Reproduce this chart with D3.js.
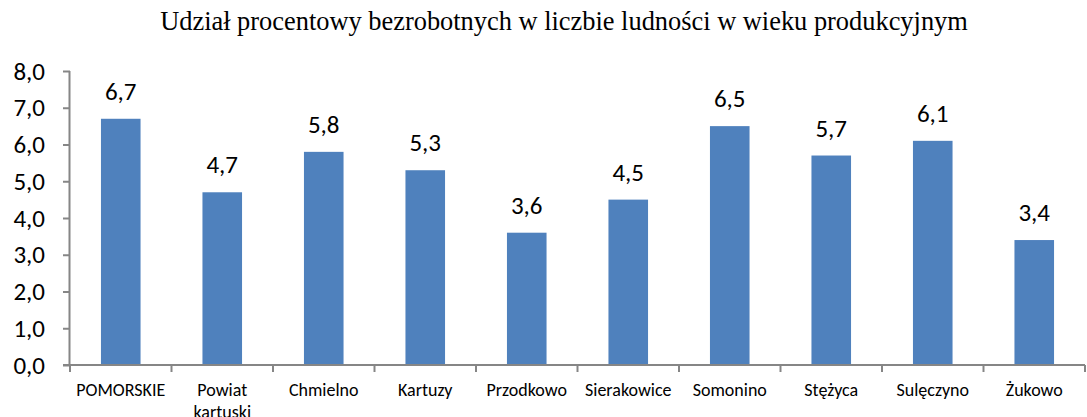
<!DOCTYPE html>
<html>
<head>
<meta charset="utf-8">
<script src="https://cdn.jsdelivr.net/npm/d3@7"></script>
<style>
  body { margin: 0; background: #fff; }
  svg { display: block; }
</style>
</head>
<body>
<figure id="chart" style="margin:0"></figure>
<script>
const categories = ["POMORSKIE", "Powiat kartuski", "Chmielno", "Kartuzy", "Przodkowo",
  "Sierakowice", "Somonino", "Stężyca", "Sulęczyno", "Żukowo"];
const values = [6.7, 4.7, 5.8, 5.3, 3.6, 4.5, 6.5, 5.7, 6.1, 3.4];
const yTicks = [0, 1, 2, 3, 4, 5, 6, 7, 8];
const chartTitle = "Udział procentowy bezrobotnych w liczbie ludności w wieku produkcyjnym";

const width = 1087, height = 417;
const margin = { top: 71, right: 2, bottom: 52, left: 70 };
const fmt = v => v.toFixed(1).replace(".", ",");
const sans = "Carlito, 'Liberation Sans', Arial, sans-serif";

const svg = d3.select("figure#chart")
  .append("svg")
  .attr("width", width)
  .attr("height", height);

const x = d3.scaleBand()
  .domain(categories)
  .range([margin.left, width - margin.right])
  .paddingInner(0.61)
  .paddingOuter(0.305);

const y = d3.scaleLinear()
  .domain([0, 8])
  .range([height - margin.bottom, margin.top]);

// title
svg.append("text")
  .attr("x", 564)
  .attr("y", 30)
  .attr("text-anchor", "middle")
  .attr("font-family", "'Liberation Serif', 'Times New Roman', serif")
  .attr("font-size", 26.4)
  .attr("fill", "#000")
  .text(chartTitle);

// bars
svg.append("g")
  .selectAll("rect")
  .data(values)
  .join("rect")
  .attr("x", (d, i) => x(categories[i]))
  .attr("y", d => y(d))
  .attr("width", x.bandwidth())
  .attr("height", d => y(0) - y(d))
  .attr("fill", "#4f81bd");

// data labels
svg.append("g")
  .selectAll("text")
  .data(values)
  .join("text")
  .attr("x", (d, i) => x(categories[i]) + x.bandwidth() / 2)
  .attr("y", d => y(d) - 19)
  .attr("text-anchor", "middle")
  .attr("font-family", sans)
  .attr("font-size", 25)
  .attr("fill", "#000")
  .text(fmt);

// y axis
const gy = svg.append("g")
  .attr("transform", `translate(${margin.left},0)`)
  .call(d3.axisLeft(y).tickValues(yTicks).tickFormat(fmt).tickSize(7).tickPadding(18));
gy.select(".domain").attr("stroke", "#868686").attr("stroke-width", 2).attr("d", `M-0.5,${y(8)}V${y(0)}`);
gy.selectAll(".tick line").attr("stroke", "#868686").attr("stroke-width", 2);
gy.selectAll(".tick text")
  .attr("font-family", sans)
  .attr("font-size", 25)
  .attr("fill", "#000");

// x axis
const gx = svg.append("g")
  .attr("transform", `translate(0,${y(0)})`);
gx.append("line")
  .attr("x1", margin.left - 7)
  .attr("x2", width - margin.right)
  .attr("stroke", "#868686")
  .attr("stroke-width", 2);
const bounds = d3.range(categories.length + 1).map(i => margin.left + i * (width - margin.right - margin.left) / categories.length);
gx.selectAll(".xt")
  .data(bounds)
  .join("line")
  .attr("class", "xt")
  .attr("x1", d => d)
  .attr("x2", d => d)
  .attr("y1", 0)
  .attr("y2", 7)
  .attr("stroke", "#868686")
  .attr("stroke-width", 2);

// category labels, "Powiat kartuski" wraps onto a second line that runs off the bottom edge as in the original
const xl = gx.selectAll(".xl")
  .data(categories)
  .join("text")
  .attr("class", "xl")
  .attr("x", d => x(d) + x.bandwidth() / 2)
  .attr("y", 31)
  .attr("text-anchor", "middle")
  .attr("font-family", sans)
  .attr("font-size", 18)
  .attr("fill", "#000");
xl.each(function(d) {
  const t = d3.select(this);
  if (d === "Powiat kartuski") {
    t.append("tspan").attr("x", t.attr("x")).text("Powiat");
    t.append("tspan").attr("x", t.attr("x")).attr("dy", 22).text("kartuski");
  } else {
    t.text(d);
  }
});
</script>
</body>
</html>
